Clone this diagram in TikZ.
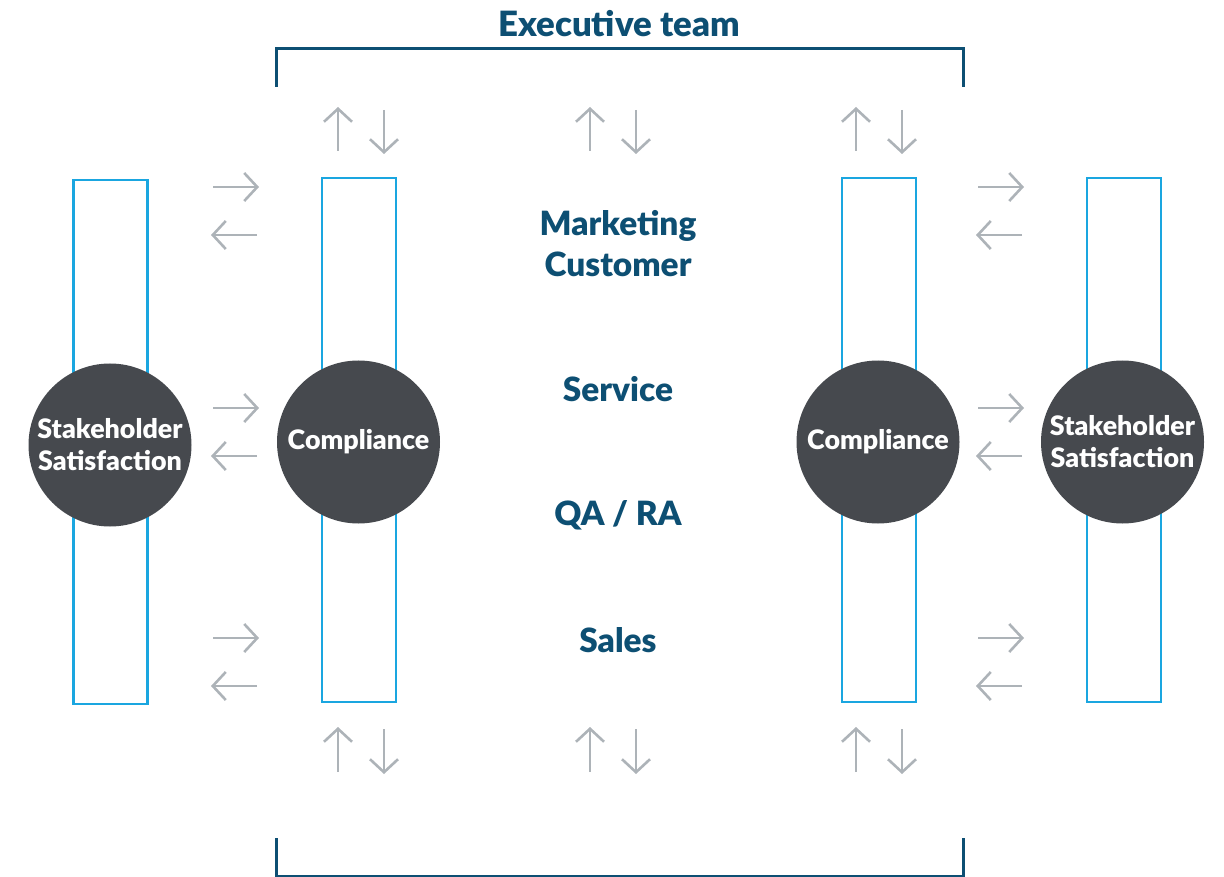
\documentclass[tikz,border=0pt]{standalone}
\usepackage{fontspec}
\setmainfont{Lato}[BoldFont={Lato Black}]
\usetikzlibrary{arrows.meta}
\definecolor{navy}{HTML}{0D4F73}
\definecolor{cyanb}{HTML}{1AA6E0}
\definecolor{disc}{HTML}{46494E}
\definecolor{arrgray}{HTML}{ADB3B8}
\tikzset{
  bracket/.style={draw=navy, line width=3pt},
  bar/.style={draw=cyanb, line width=2.6pt, fill=white, minimum width=74pt, inner sep=0pt, rectangle},
  disk/.style={circle, fill=disc, minimum size=163pt, inner sep=0pt, text=white, font=\bfseries\fontsize{26.8}{32}\selectfont, align=center},
  label/.style={text=navy, font=\bfseries\fontsize{33.4}{41}\selectfont, align=center},
  arr/.style={draw=arrgray, line width=2.6pt, -{Straight Barb[length=13pt,width=28pt,line width=2.6pt]}},
}
\begin{document}
\begin{tikzpicture}[x=1pt,y=-1pt]
\useasboundingbox (0,0) rectangle (1224,877);
% title and brackets
\node[label, font=\bfseries\fontsize{34.8}{41}\selectfont] (title) at (619,24) {Executive team};
\draw[bracket] (276,87) -- (276,49) -- (963,49) -- (963,87);
\draw[bracket] (276,838) -- (276,876) -- (963,876) -- (963,838);
% bars
\node[bar, minimum height=524pt] (r1) at (110.5,442) {};
\node[bar, minimum height=524pt] (r2) at (359,440) {};
\node[bar, minimum height=524pt] (r3) at (879,440) {};
\node[bar, minimum height=524pt] (r4) at (1124,440) {};
% discs
\node[disk] (c1) at (110,445) {Stakeholder\\Satisfaction};
\node[disk] (c2) at (358.5,442) {Compliance};
\node[disk] (c3) at (878,442) {Compliance};
\node[disk] (c4) at (1122.5,442) {Stakeholder\\Satisfaction};
% centre labels
\node[label] (mk) at (618,244) {Marketing\\Customer};
\node[label] (sv) at (618,389) {Service};
\node[label] (qa) at (618,515) {QA / RA};
\node[label] (sl) at (618,640) {Sales};
% vertical arrows
\foreach \x in {338,590,856} {
  \draw[arr] (\x,151) -- (\x,107);
  \draw[arr] (\x+46,110) -- (\x+46,154);
  \draw[arr] (\x,772) -- (\x,727);
  \draw[arr] (\x+46,729) -- (\x+46,774);
}
% horizontal arrows
\foreach \y in {187,408,638} {
  \draw[arr] (213,\y) -- (259,\y);
  \draw[arr] (257,\y+48) -- (211,\y+48);
  \draw[arr] (978,\y) -- (1024,\y);
  \draw[arr] (1022,\y+48) -- (976,\y+48);
}
\end{tikzpicture}
\end{document}
